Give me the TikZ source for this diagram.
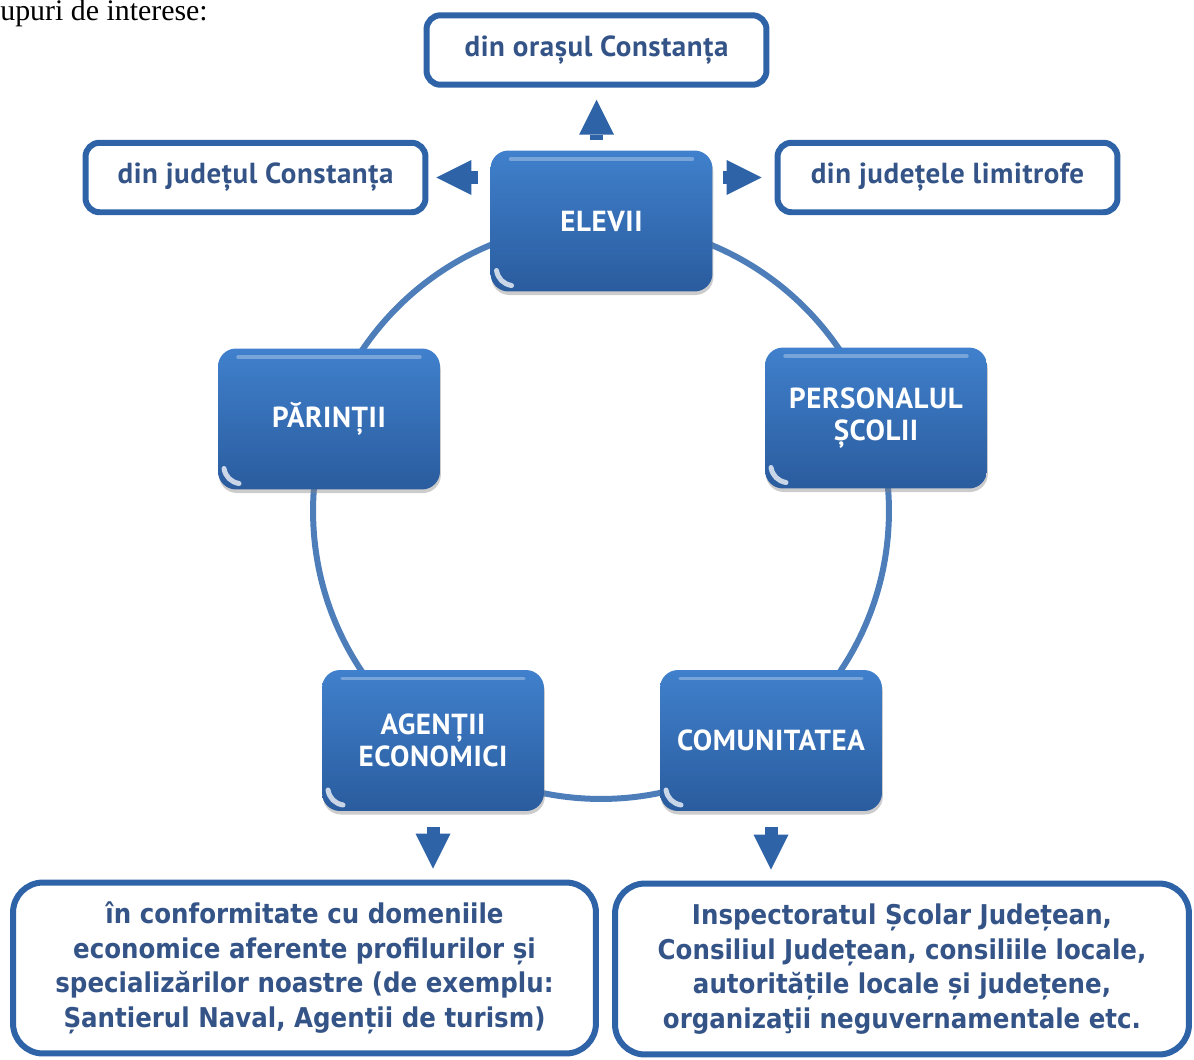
\documentclass[tikz,border=0pt]{standalone}
\usepackage{fontspec}
\setmainfont{Liberation Serif}
\newfontfamily\dinfont[LetterSpace=2]{PT Sans}
\newfontfamily\tahfont[FakeStretch=0.9]{DejaVu Sans}
\usetikzlibrary{positioning,arrows.meta,shadows}
\definecolor{boxline}{RGB}{46,99,167}
\definecolor{boxtext}{RGB}{52,84,136}
\definecolor{ringblue}{RGB}{78,126,186}
\definecolor{topblue}{RGB}{64,128,204}
\definecolor{botblue}{RGB}{42,92,158}
\tikzset{
  bluebox/.style={rounded corners=0.36cm, minimum width=4.44cm, minimum height=2.82cm,
    top color=topblue, bottom color=botblue, text=white, align=center,
    font=\dinfont\bfseries\fontsize{16.5}{18}\selectfont,
    drop shadow={shadow xshift=0.5pt, shadow yshift=-2pt, opacity=0.4},
    path picture={
      \draw[white, opacity=0.75, line width=0.1cm, line cap=round]
        ([xshift=0.12cm, yshift=0.42cm]path picture bounding box.south west)
        to[bend right=35] ([xshift=0.42cm, yshift=0.12cm]path picture bounding box.south west);% corner glint
      \draw[white, opacity=0.3, line width=2pt, line cap=round]
        ([xshift=0.4cm, yshift=-0.17cm]path picture bounding box.north west)
        -- ([xshift=-0.4cm, yshift=-0.17cm]path picture bounding box.north east);% top gloss
    }},
  smallbox/.style={draw=boxline, line width=0.12cm, rounded corners=0.28cm, fill=white,
    minimum width=6.8cm, minimum height=1.39cm, text=boxtext,
    font=\dinfont\bfseries\fontsize{16.5}{18}\selectfont},
  bigbox/.style={draw=boxline, line width=0.12cm, rounded corners=0.6cm, fill=white,
    minimum height=3.42cm, text=boxtext, align=center,
    font=\tahfont\bfseries\fontsize{15.5}{19.7}\selectfont},
  blockarrow/.style={boxline, line width=0.26cm, -{Triangle[length=0.7cm, width=0.7cm, line width=0pt]}}
}
\begin{document}
\begin{tikzpicture}[x=0.02cm, y=-0.02cm]
\useasboundingbox (0,0) rectangle (1194,1059);

\node[anchor=base west, inner sep=0pt, font=\fontsize{17}{20}\selectfont] (intro) at (0,20) {upuri de interese:};

\draw[ringblue, line width=0.12cm] (601,511) circle [radius=5.76cm];% ring behind the boxes

\node[smallbox] (oras) at (596.5,50) {din orașul Constanța};
\node[smallbox] (judet) at (255.5,177.5) {din județul Constanța};
\node[smallbox] (limitrofe) at (947.5,177.5) {din județele limitrofe};

\node[bluebox] (elevii) at (601.5,221) {ELEVII};
\node[bluebox] (parinti) at (329,419) {PĂRINȚII};
\node[bluebox] (personal) at (876,418) {PERSONALUL\\ȘCOLII};
\node[bluebox] (agenti) at (433,740.5) {AGENȚII\\ECONOMICI};
\node[bluebox] (comunitate) at (771,740.5) {COMUNITATEA};

\node[bigbox, minimum width=11.66cm] (econ) at (304.5,968) {în conformitate cu domeniile\\economice aferente profilurilor și\\specializărilor noastre (de exemplu:\\Șantierul Naval, Agenții de turism)};
\node[bigbox, minimum width=11.48cm] (autoritati) at (902,969) {Inspectoratul Școlar Județean,\\Consiliul Județean, consiliile locale,\\autoritățile locale și județene,\\organizaţii neguvernamentale etc.};

\draw[blockarrow, shorten <=0.2cm, shorten >=0.24cm] (oras.south |- elevii.north) -- (oras.south);
\draw[blockarrow, shorten <=0.24cm, shorten >=0.16cm] (elevii.west |- judet.east) -- (judet.east);
\draw[blockarrow, shorten <=0.2cm, shorten >=0.26cm] (elevii.east |- limitrofe.west) -- (limitrofe.west);
\draw[blockarrow, shorten <=0.32cm, shorten >=0.22cm] (agenti.south) -- (agenti.south |- econ.north);
\draw[blockarrow, shorten <=0.32cm, shorten >=0.22cm] (comunitate.south) -- (comunitate.south |- autoritati.north);
\end{tikzpicture}
\end{document}
